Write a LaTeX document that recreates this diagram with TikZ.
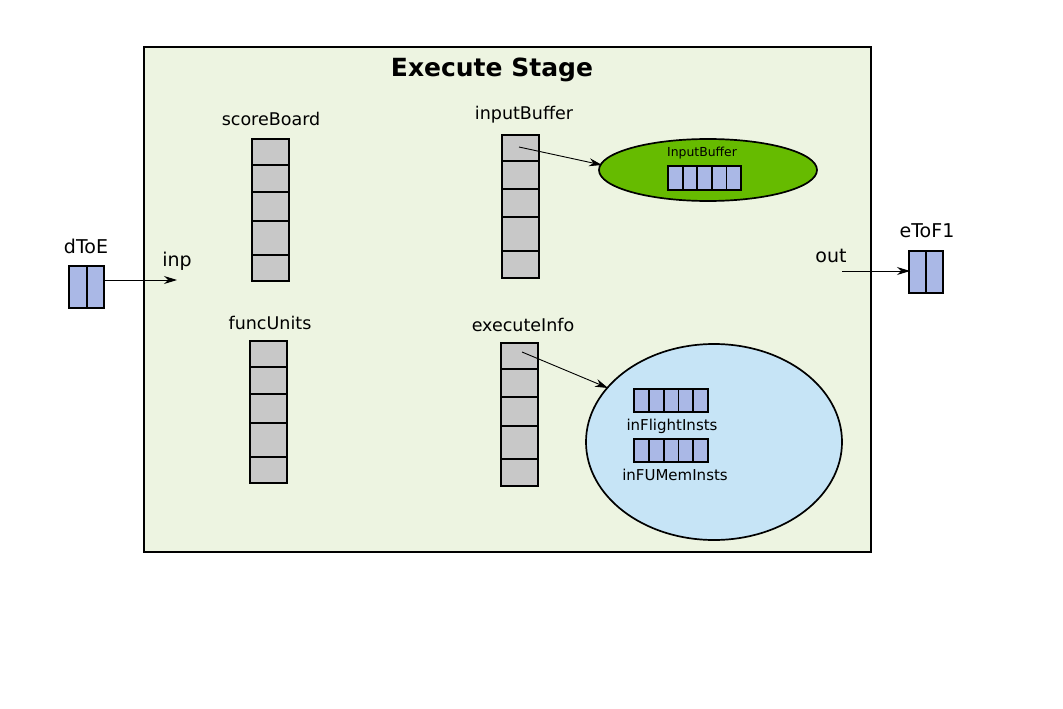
\documentclass[tikz,border=0pt]{standalone}
\usepackage{fontspec}
\setmainfont{DejaVu Sans}
\usetikzlibrary{arrows.meta}
\definecolor{stagebg}{HTML}{EDF4E1}
\definecolor{cellgrey}{HTML}{C8C8C8}
\definecolor{cellblue}{HTML}{AAB8E6}
\definecolor{ibgreen}{HTML}{66BB00}
\definecolor{eiblue}{HTML}{C6E4F6}
\tikzset{
  gcell/.style={draw=black, line width=2pt, fill=cellgrey},
  bcell/.style={draw=black, line width=1.8pt, fill=cellblue},
  lbl/.style={font=\fontsize{17.5}{20}\selectfont, inner sep=0pt},
  plbl/.style={font=\fontsize{19}{22}\selectfont, inner sep=0pt},
  conn/.style={-{Stealth[length=13pt,width=8pt]}, line width=0.9pt},
  ellborder/.style={draw=black, line width=1.7pt},
}
\begin{document}
\begin{tikzpicture}[x=1pt,y=-1pt]
\useasboundingbox (0,0) rectangle (1063,709);
% stage box
\node[draw=black, line width=1.8pt, fill=stagebg, minimum width=727pt, minimum height=505pt, inner sep=0pt, anchor=north west] (stage) at (143,46) {};
\node[font=\fontsize{25}{28}\selectfont\bfseries, inner sep=0pt] (title) at (492,70) {Execute Stage};

% dToE
\node[plbl] (dtoelbl) at (86,246) {dToE};
\draw[bcell] (69,266) rectangle (87,308);
\draw[bcell] (87,266) rectangle (104,308);
\coordinate (dtoe) at (104,280);
\coordinate (inp) at (177,280);
\node[plbl] (inplbl) at (177,261) {inp};
\draw[conn] (dtoe) -- (inp);

% eToF1
\node[plbl] (etof1lbl) at (927,231) {eToF1};
\draw[bcell] (909,251) rectangle (926,293);
\draw[bcell] (926,251) rectangle (943,293);
\node[plbl] (outlbl) at (831,256) {out};
\coordinate (outc) at (842,271);
\coordinate (etof1) at (910,271);
\draw[conn] (outc) -- (etof1);

% scoreBoard
\node[lbl] (sblbl) at (271,119) {scoreBoard};
\foreach \a/\b in {139/165,165/192,192/221,221/255,255/281}
  \draw[gcell] (252,\a) rectangle (289,\b);
% funcUnits
\node[lbl] (fulbl) at (270,323) {funcUnits};
\foreach \a/\b in {341/367,367/394,394/423,423/457,457/483}
  \draw[gcell] (250,\a) rectangle (287,\b);
% inputBuffer
\node[lbl] (iblbl) at (524,115) {inputBuffer};
\foreach \a/\b in {135/161,161/189,189/217,217/251,251/278}
  \draw[gcell] (502,\a) rectangle (539,\b);
% executeInfo
\node[lbl] (eilbl) at (523,325) {executeInfo};
\foreach \a/\b in {343/369,369/397,397/426,426/459,459/486}
  \draw[gcell] (501,\a) rectangle (538,\b);

% InputBuffer ellipse
\draw[ellborder, fill=ibgreen] (708,170) ellipse [x radius=109, y radius=31];
\coordinate (ibell) at (602,165);
\node[font=\fontsize{12.4}{14}\selectfont, inner sep=0pt] (ibinner) at (702,153) {InputBuffer};
\foreach \i in {0,...,4}
  \draw[bcell] ({668+\i*14.6},166) rectangle ({668+(\i+1)*14.6},190);
\coordinate (ibsrc) at (519,147);
\draw[conn] (ibsrc) -- (ibell);

% executeInfo ellipse
\draw[ellborder, fill=eiblue] (714,442) ellipse [x radius=128, y radius=98];
\coordinate (eiell) at (608,388);
\foreach \i in {0,...,4}
  \draw[bcell] ({634+\i*14.8},389) rectangle ({634+(\i+1)*14.8},412);
\node[font=\fontsize{15}{17}\selectfont, inner sep=0pt] (ifl) at (672,426) {inFlightInsts};
\foreach \i in {0,...,4}
  \draw[bcell] ({634+\i*14.8},439) rectangle ({634+(\i+1)*14.8},462);
\node[font=\fontsize{15}{17}\selectfont, inner sep=0pt] (ifu) at (675,475) {inFUMemInsts};
\coordinate (eisrc) at (522,352);
\draw[conn] (eisrc) -- (eiell);
\end{tikzpicture}
\end{document}
